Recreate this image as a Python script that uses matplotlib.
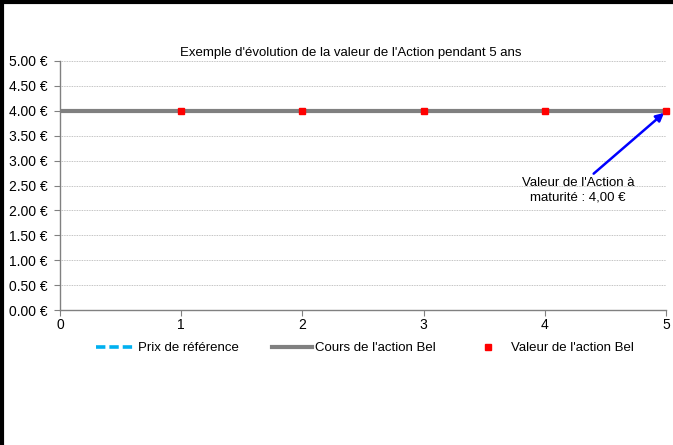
import matplotlib
matplotlib.use("Agg")
from matplotlib import pyplot as plt
from matplotlib.lines import Line2D
from matplotlib.ticker import FuncFormatter
import numpy as np

plt.rcParams['font.family'] = ['Liberation Sans', 'DejaVu Sans']

# data
annees = [0, 1, 2, 3, 4, 5]
prix_reference = [4.0, 4.0, 4.0, 4.0, 4.0, 4.0]
cours_action = [4.0, 4.0, 4.0, 4.0, 4.0, 4.0]
annees_valeur = [1, 2, 3, 4, 5]
valeur_action = [4.0, 4.0, 4.0, 4.0, 4.0]
y_ticks = [0.0, 0.5, 1.0, 1.5, 2.0, 2.5, 3.0, 3.5, 4.0, 4.5, 5.0]

fig = plt.figure(figsize=(6.73, 4.45), dpi=100)
ax = fig.add_axes([60 / 673, 1 - 310 / 445, 606 / 673, 249 / 445])

ax.plot(annees, prix_reference, color='#00b0f0', lw=2.6, ls=(0, (2.6, 1.1)),
        label='Prix de référence', zorder=2)
ax.plot(annees, cours_action, color='#808080', lw=3,
        label="Cours de l'action Bel", zorder=3)
ax.plot(annees_valeur, valeur_action, ls='none', marker='s', ms=4,
        color='red', label="Valeur de l'action Bel", zorder=4, clip_on=False)

ax.set_xlim(0, 5)
ax.set_ylim(0, 5)
ax.set_yticks(y_ticks)
ax.set_xticks(annees)
ax.yaxis.set_major_formatter(FuncFormatter(lambda v, p: '%.2f €' % v))
ax.grid(axis='y', color='#b0b0b0', ls=(0, (1, 1)), lw=0.6)
ax.set_axisbelow(True)

for s in ['top', 'right']:
    ax.spines[s].set_visible(False)
for s in ['left', 'bottom']:
    ax.spines[s].set_color('#808080')
    ax.spines[s].set_linewidth(1)
ax.tick_params(labelsize=10, length=4, color='#808080')
ax.tick_params(axis='y', pad=5)
ax.tick_params(axis='x', pad=2)

fig.text(351 / 673, 1 - 53 / 445,
         "Exemple d'évolution de la valeur de l'Action pendant 5 ans",
         ha='center', va='center', fontsize=9.5)

ax.annotate("Valeur de l'Action à\nmaturité : 4,00 €", xy=(4.985, 3.96),
            xytext=(4.275, 2.40), ha='center', va='center', fontsize=9.5,
            linespacing=1.25,
            arrowprops=dict(arrowstyle='-|>', color='#0000ff', lw=1.8,
                            shrinkA=1, shrinkB=0, mutation_scale=12,
                            relpos=(0.6, 1.0)))

fig.legend(*ax.get_legend_handles_labels(), loc='center',
           bbox_to_anchor=(365 / 673, 1 - 348 / 445), ncol=3,
           frameon=False, fontsize=9.5, handlelength=3.0, columnspacing=2.5,
           handletextpad=0.23, borderpad=0)

# black border on top and left
fig.add_artist(Line2D([0, 1], [0.996, 0.996], color='black', lw=3,
                      transform=fig.transFigure))
fig.add_artist(Line2D([0.003, 0.003], [0, 1], color='black', lw=3,
                      transform=fig.transFigure))

fig.savefig('out.png', dpi=100)
